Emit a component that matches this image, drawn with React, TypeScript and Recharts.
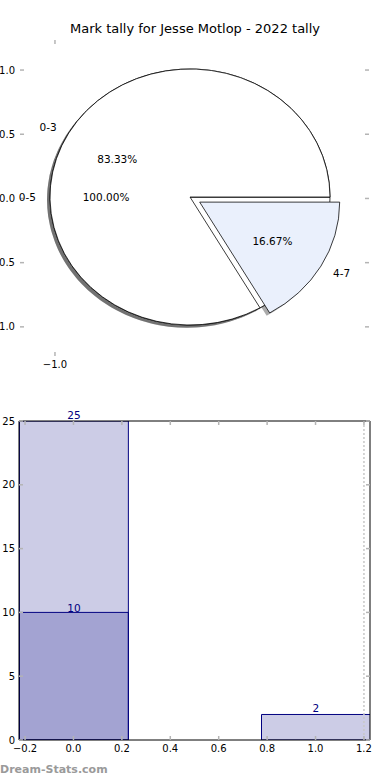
import React from 'react';
import {
  ComposedChart, PieChart, Pie, Cell, XAxis, YAxis,
  Bar, LabelList, ReferenceLine, ReferenceDot
} from 'recharts';

const chartTitle = 'Mark tally for Jesse Motlop - 2022 tally';
const watermark = 'Dream-Stats.com';

// pie: one wedge for the whole range, a second pie split in two
const wholeRangeNames = ['0-5'];
const wholeRangeCounts = [6];
const splitRangeNames = ['0-3', '4-7'];
const splitRangeCounts = [5, 1];
const splitRangeColors = ['#ffffff', '#eaf0fc'];
const splitExplode = [0, 0.08];

const pieXTicks = [-1.0];
const pieYTicks = [1.0, 0.5, 0.0, -0.5, -1.0];

// bars
const barCenters = [0, 1];
const barTallies = [25, 2];
const barOverlay = [10, null];
const barXTicks = [-0.2, 0, 0.2, 0.4, 0.6, 0.8, 1.0, 1.2];
const barYTicks = [0, 5, 10, 15, 20, 25];

const FONT = 'DejaVu Sans, sans-serif';
const TICK_GRAY = '#b4b4b4';
const NAVY = '#000080';
const RX = 140;
const RY = 128;
const PIE_CX = 190;
const PIE_CY = 197;
const SHADOW = 3;
const RAD = Math.PI / 180;

const PIE_X_DOMAIN: [number, number] = [-1.259, 1.326];
const PIE_Y_DOMAIN: [number, number] = [-1.227, 1.234];
const PIE_PLOT_H = 316;
const BAR_DOMAIN: [number, number] = [-0.225, 1.225];
const BAR_PLOT_W = 351;
const BAR_W_UNITS = 0.45;
const barSize = (BAR_PLOT_W * BAR_W_UNITS) / (BAR_DOMAIN[1] - BAR_DOMAIN[0]);

const wholeData = wholeRangeNames.map((name, i) => ({ name, value: wholeRangeCounts[i] }));
const splitData = splitRangeNames.map((name, i) => ({ name, value: splitRangeCounts[i] }));
const barData = barCenters.map((x, i) => ({ x, tally: barTallies[i], overlay: barOverlay[i] }));
const pieFrameData = pieXTicks.map((x) => ({ x }));

const midAngles = (counts: number[]) => {
  const total = counts.reduce((a, b) => a + b, 0);
  let acc = 0;
  return counts.map((v) => {
    const m = ((acc + v / 2) / total) * 360;
    acc += v;
    return m;
  });
};
const splitMids = midAngles(splitRangeCounts);
const explodeShift = (i: number) => {
  const dist = splitExplode[i] * RX;
  return {
    dx: Math.cos(-splitMids[i] * RAD) * dist,
    dy: Math.sin(-splitMids[i] * RAD) * dist,
  };
};

const fmt = (v: number) => (v < 0 ? '\u2212' + Math.abs(v).toFixed(1) : v.toFixed(1));
const String0 = (v: number) => String(v);

const pieLabel = (explode: number[]) => (props: any) => {
  const { cx, cy, midAngle, percent, name, index } = props;
  const e = explode[index] ?? 0;
  const c = Math.cos(-midAngle * RAD);
  const s = Math.sin(-midAngle * RAD);
  const ox = cx + c * e * RX;
  const oy = cy + s * e * RY;
  return (
    <g key={`lbl-${name}`} fontFamily={FONT} fontSize={10.5} fill="#000">
      <text x={ox + c * 1.1 * RX} y={oy + s * 1.1 * RY} textAnchor={c < 0 ? 'end' : 'start'} dominantBaseline="central">
        {name}
      </text>
      <text x={ox + c * 0.6 * RX} y={oy + s * 0.6 * RY} textAnchor="middle" dominantBaseline="central">
        {(percent * 100).toFixed(2)}%
      </text>
    </g>
  );
};

// inward tick mark + optional label; x/y = where recharts puts the tick
type Orient = 'left' | 'right' | 'top';
const makeTick = (orient: Orient, gap: number, label?: (v: number) => string) => (props: any) => {
  const { x, y, payload } = props;
  const len = 4;
  let line;
  let text = null;
  if (orient === 'left') {
    const ex = x + gap;
    line = <line x1={ex} x2={ex + len} y1={y} y2={y} />;
    if (label) text = <text x={x} y={y} textAnchor="end" dominantBaseline="central">{label(payload.value)}</text>;
  } else if (orient === 'right') {
    line = <line x1={x - len} x2={x} y1={y} y2={y} />;
  } else {
    line = <line x1={x} x2={x} y1={y} y2={y + len} />;
  }
  return (
    <g>
      <g stroke={TICK_GRAY} strokeWidth={1.5}>{line}</g>
      {text && <g fontFamily={FONT} fontSize={10} fill="#000">{text}</g>}
    </g>
  );
};

// pie frame x ticks: mark at the top edge plus mirrored mark + label at the bottom edge
const pieXTick = (props: any) => {
  const { x, y, payload } = props;
  const yb = y + PIE_PLOT_H;
  return (
    <g>
      <line x1={x} x2={x} y1={y} y2={y + 4} stroke={TICK_GRAY} strokeWidth={1.5} />
      <line x1={x} x2={x} y1={yb - 4} y2={yb} stroke={TICK_GRAY} strokeWidth={1.5} />
      <text x={x} y={yb + 12} textAnchor="middle" fontFamily={FONT} fontSize={10} fill="#000">{fmt(payload.value)}</text>
    </g>
  );
};

// bottom x ticks: a reference dot at the plot floor drawn as tick + label
const bottomTick = (text: string, drop: number) => (props: any) => {
  const { cx, cy } = props;
  return (
    <g>
      <line x1={cx} x2={cx} y1={cy - 4} y2={cy} stroke={TICK_GRAY} strokeWidth={1.5} />
      <text x={cx} y={cy + drop} textAnchor="middle" fontFamily={FONT} fontSize={10} fill="#000">{text}</text>
    </g>
  );
};

export default function App() {
  return (
    <div style={{ position: 'absolute', left: 0, top: 0, width: 390, height: 780, background: '#fff' }}>
      <style>{`
        .pie-ellipse .recharts-pie-sector { transform: scaleY(${RY / RX}); transform-origin: ${PIE_CX}px ${PIE_CY}px; }
      `}</style>

      <div style={{ position: 'absolute', top: 22, left: 0, width: 390, textAlign: 'center', fontFamily: FONT, fontSize: 13, lineHeight: '13px', color: '#000' }}>
        {chartTitle}
      </div>

      {/* axes behind the pie */}
      <div style={{ position: 'absolute', top: 0, left: 0 }}>
        <ComposedChart width={390} height={390} data={pieFrameData} margin={{ top: 39, right: 0, bottom: 34, left: 0 }}>
          <XAxis xAxisId="t" orientation="top" type="number" dataKey="x" domain={PIE_X_DOMAIN} allowDataOverflow ticks={pieXTicks}
            interval={0} height={1} axisLine={false} tickLine={false} tickSize={0} tickMargin={0}
            tick={pieXTick} />
          <YAxis yAxisId="l" type="number" domain={PIE_Y_DOMAIN} allowDataOverflow ticks={pieYTicks} interval={0}
            width={20} axisLine={false} tickLine={false} tickSize={0} tickMargin={5}
            tick={makeTick('left', 5, fmt)} />
          <YAxis yAxisId="r" orientation="right" type="number" domain={PIE_Y_DOMAIN} allowDataOverflow ticks={pieYTicks}
            interval={0} width={21} axisLine={false} tickLine={false} tickSize={0} tickMargin={0}
            tick={makeTick('right', 0)} />
        </ComposedChart>
      </div>

      <div className="pie-ellipse" style={{ position: 'absolute', top: 0, left: 0 }}>
        <PieChart width={390} height={390} margin={{ top: 0, right: 0, bottom: 0, left: 0 }}>
          {/* shadows, below every wedge */}
          <Pie data={wholeData} dataKey="value" cx={PIE_CX - SHADOW} cy={PIE_CY + SHADOW} outerRadius={RX}
            startAngle={0} endAngle={360} fill="#000" fillOpacity={0.33} stroke="none"
            labelLine={false} label={false} isAnimationActive={false} />
          <Pie data={splitData} dataKey="value" cx={PIE_CX - SHADOW} cy={PIE_CY + SHADOW} outerRadius={RX}
            startAngle={0} endAngle={360} fill="#000" fillOpacity={0.33} stroke="none"
            labelLine={false} label={false} isAnimationActive={false}>
            {splitData.map((d, i) => {
              const { dx, dy } = explodeShift(i);
              return <Cell key={d.name} fill="#000" style={{ transform: `translate(${dx}px, ${dy}px)` }} />;
            })}
          </Pie>

          <Pie data={wholeData} dataKey="value" nameKey="name" cx={PIE_CX} cy={PIE_CY} outerRadius={RX}
            startAngle={0} endAngle={360} fill="#ffffff" stroke="#000" strokeWidth={0.8}
            labelLine={false} label={pieLabel([0])} isAnimationActive={false} />
          <Pie data={splitData} dataKey="value" nameKey="name" cx={PIE_CX} cy={PIE_CY} outerRadius={RX}
            startAngle={0} endAngle={360} stroke="#000" strokeWidth={0.8}
            labelLine={false} label={pieLabel(splitExplode)} isAnimationActive={false}>
            {splitData.map((d, i) => {
              const { dx, dy } = explodeShift(i);
              return (
                <Cell key={d.name} fill={splitRangeColors[i]}
                  style={{ transform: `translate(${dx}px, ${dy}px)` }} />
              );
            })}
          </Pie>
        </PieChart>
      </div>

      <div style={{ position: 'absolute', top: 390, left: 0 }}>
        <ComposedChart width={390} height={390} data={barData} margin={{ top: 30, right: 0, bottom: 40, left: 0 }}>
          <XAxis xAxisId="barsA" hide type="number" dataKey="x" domain={BAR_DOMAIN} allowDataOverflow tickCount={2} />
          <XAxis xAxisId="barsB" hide type="number" dataKey="x" domain={BAR_DOMAIN} allowDataOverflow tickCount={2} />
          <XAxis xAxisId="top" orientation="top" type="number" dataKey="x" domain={BAR_DOMAIN} allowDataOverflow
            ticks={barXTicks} interval={0} height={1} axisLine={{ stroke: '#000' }} tickLine={false} tickSize={0}
            tickMargin={0} tick={makeTick('top', 0)} />
          <YAxis yAxisId="left" type="number" domain={[0, 25]} allowDataOverflow ticks={barYTicks} interval={0} width={19}
            axisLine={{ stroke: '#000' }} tickLine={false} tickSize={0} tickMargin={4}
            tick={makeTick('left', 4, String0)} />
          <YAxis yAxisId="right" orientation="right" type="number" domain={[0, 25]} allowDataOverflow ticks={barYTicks}
            interval={0} width={20} axisLine={{ stroke: '#000' }} tickLine={false} tickSize={0} tickMargin={0}
            tick={makeTick('right', 0)} />
          <Bar dataKey="tally" xAxisId="barsA" yAxisId="left" barSize={barSize} fill={NAVY} fillOpacity={0.2}
            stroke={NAVY} strokeWidth={1} isAnimationActive={false}>
            <LabelList dataKey="tally" position="top" offset={2} fill={NAVY} fontFamily={FONT} fontSize={10.5} />
          </Bar>
          <Bar dataKey="overlay" xAxisId="barsB" yAxisId="left" barSize={barSize} fill={NAVY} fillOpacity={0.2}
            stroke={NAVY} strokeWidth={1} isAnimationActive={false}>
            <LabelList dataKey="overlay" position="top" offset={0} fill={NAVY} fontFamily={FONT} fontSize={10.5} />
          </Bar>
          <ReferenceLine x={1.2} xAxisId="top" yAxisId="left" stroke="#c8c8c8" strokeWidth={1.5} strokeDasharray="2 2" />
          <ReferenceLine y={0} xAxisId="top" yAxisId="left" stroke="#000" strokeWidth={1} />
          {barXTicks.map((v) => (
            <ReferenceDot key={`bx${v}`} x={v} y={0} xAxisId="top" yAxisId="left" r={0}
              ifOverflow="visible" shape={bottomTick(fmt(v), 11.5)} />
          ))}
        </ComposedChart>
      </div>

      <div style={{ position: 'absolute', top: 764, left: 0, fontFamily: FONT, fontSize: 11, fontWeight: 'bold', lineHeight: '11px', color: '#9a9a9a' }}>
        {watermark}
      </div>
    </div>
  );
}
